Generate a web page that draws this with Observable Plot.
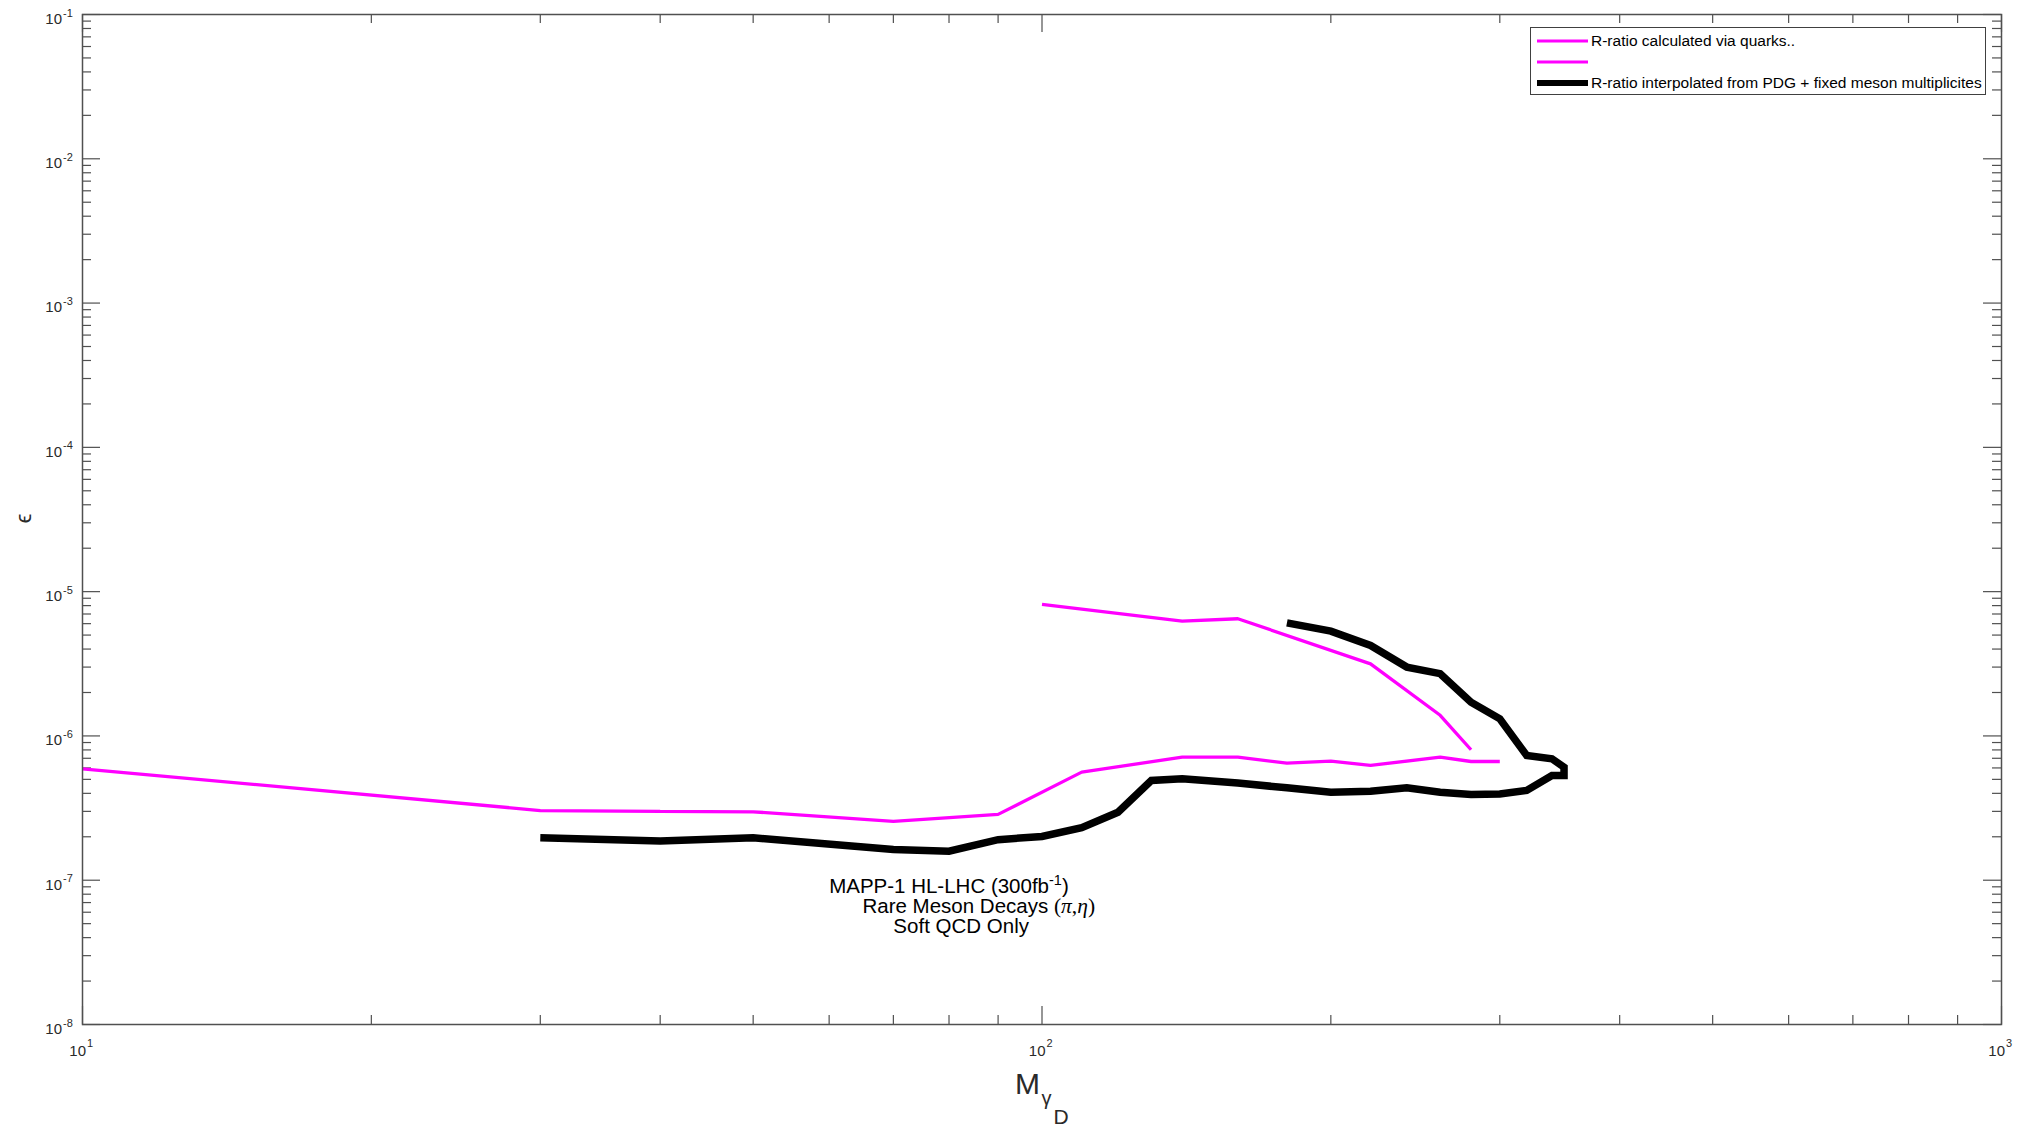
<!DOCTYPE html>
<html><head><meta charset="utf-8">
<script src="https://cdn.jsdelivr.net/npm/d3@7"></script>
<script src="https://cdn.jsdelivr.net/npm/@observablehq/plot@0.6"></script>
<style>
html,body{margin:0;padding:0;background:#fff;}
#chart{position:relative;width:2031px;height:1128px;font-family:"Liberation Sans",Arial,Helvetica,sans-serif;}
#legend{position:absolute;left:1530px;top:27px;width:456px;height:68px;box-sizing:border-box;border:1.5px solid #404040;background:#fff;}
#legend .row{position:absolute;left:6px;height:20px;display:flex;align-items:center;font-size:15.5px;color:#000;white-space:nowrap;}
#legend .row svg{margin-right:3px;}
</style></head><body><div id="chart"></div>
<script>
// ---- data ----
const seriesNames = ["R-ratio calculated via quarks..", "", "R-ratio interpolated from PDG + fixed meson multiplicites"];
const seriesColors = ["#ff00ff", "#ff00ff", "#000000"];
const seriesWidths = [3.3, 3.3, 7.5];

const pinkLowerMass = [10, 30, 40, 50, 70, 90, 110, 140, 160, 180, 200, 220, 260, 280, 300];
const pinkLowerEps  = [5.92e-7, 3.04e-7, 3.0e-7, 2.98e-7, 2.56e-7, 2.86e-7, 5.61e-7, 7.13e-7, 7.13e-7, 6.48e-7, 6.68e-7, 6.24e-7, 7.13e-7, 6.65e-7, 6.65e-7];

const pinkUpperMass = [100, 140, 160, 220, 260, 280];
const pinkUpperEps  = [8.15e-6, 6.24e-6, 6.49e-6, 3.16e-6, 1.39e-6, 8.02e-7];

const blackMass = [30, 40, 50, 70, 80, 90, 100, 110, 120, 130, 140, 160, 180, 200, 220, 240, 260, 280, 300, 320, 340, 350, 350, 340, 320, 300, 280, 260, 240, 220, 200, 180];
const blackEps  = [1.97e-7, 1.87e-7, 1.97e-7, 1.63e-7, 1.59e-7, 1.91e-7, 2.01e-7, 2.31e-7, 2.96e-7, 4.91e-7, 5.05e-7, 4.71e-7, 4.37e-7, 4.07e-7, 4.14e-7, 4.37e-7, 4.07e-7, 3.93e-7, 3.96e-7, 4.19e-7, 5.32e-7, 5.32e-7, 6.07e-7, 6.95e-7, 7.32e-7, 1.315e-6, 1.71e-6, 2.70e-6, 3.0e-6, 4.24e-6, 5.32e-6, 6.08e-6];

const xMajor = [10, 100, 1000];
const xMinor = [20, 30, 40, 50, 60, 70, 80, 90, 200, 300, 400, 500, 600, 700, 800, 900];
const yMajor = [1e-8, 1e-7, 1e-6, 1e-5, 1e-4, 1e-3, 1e-2, 1e-1];
const yMinorMult = [2, 3, 4, 5, 6, 7, 8, 9];

const annotationLines = ["MAPP-1 HL-LHC (300fb-1)", "Rare Meson Decays (π,η)", "Soft QCD Only"];
const annotationMass = [60, 65, 70];
const annotationEps = [8.09e-8, 5.88e-8, 4.28e-8];

const xLabelMain = "M", xLabelSub = "γ", xLabelSubSub = "D";
const yLabel = "ϵ";

// ---- build ----
const W = 2031, H = 1128, mL = 82, mR = 30, mT = 14, mB = 104;
const plotH = H - mT - mB, plotW = W - mL - mR;
const majorLen = 18, minorLen = 9;
const axisColor = "#505050", labelColor = "#2a2a2a";
const font = "'Liberation Sans', Arial, Helvetica, sans-serif";

const yMinor = yMajor.slice(0, -1).flatMap(d => yMinorMult.map(m => m * d));
const rows = (xs, ys) => xs.map((x, i) => ({mass: x, eps: ys[i]}));
const pinkLower = rows(pinkLowerMass, pinkLowerEps);
const pinkUpper = rows(pinkUpperMass, pinkUpperEps);
const black = rows(blackMass, blackEps);
const annotations = annotationLines.map((t, i) => ({text: t, mass: annotationMass[i], eps: annotationEps[i]}));
const exp = d => String(Math.round(Math.log10(d)));

const tickStyle = {stroke: axisColor, strokeWidth: 1.2};
const chart = Plot.plot({
  width: W, height: H,
  marginLeft: mL, marginRight: mR, marginTop: mT, marginBottom: mB,
  style: {fontFamily: font, background: "white", overflow: "visible"},
  x: {type: "log", domain: [10, 1000], axis: null},
  y: {type: "log", domain: [1e-8, 1e-1], axis: null},
  marks: [
    // ticks (inward), bottom/top/left/right
    Plot.tickX(xMajor, {x: d => d, insetTop: plotH - majorLen, ...tickStyle}),
    Plot.tickX(xMajor, {x: d => d, insetBottom: plotH - majorLen, ...tickStyle}),
    Plot.tickX(xMinor, {x: d => d, insetTop: plotH - minorLen, ...tickStyle}),
    Plot.tickX(xMinor, {x: d => d, insetBottom: plotH - minorLen, ...tickStyle}),
    Plot.tickY(yMajor, {y: d => d, insetRight: plotW - majorLen, ...tickStyle}),
    Plot.tickY(yMajor, {y: d => d, insetLeft: plotW - majorLen, ...tickStyle}),
    Plot.tickY(yMinor, {y: d => d, insetRight: plotW - minorLen, ...tickStyle}),
    Plot.tickY(yMinor, {y: d => d, insetLeft: plotW - minorLen, ...tickStyle}),
    // tick labels
    Plot.text(xMajor, {x: d => d, text: () => "10", frameAnchor: "bottom", textAnchor: "end", lineAnchor: "top", dx: 3.5, dy: 20.5, fontSize: 15, fill: labelColor}),
    Plot.text(xMajor, {x: d => d, text: exp, frameAnchor: "bottom", textAnchor: "start", lineAnchor: "middle", dx: 4.5, dy: 18.5, fontSize: 11, fill: labelColor}),
    Plot.text(yMajor, {y: d => d, text: () => "10", frameAnchor: "left", textAnchor: "end", lineAnchor: "middle", dx: -20.5, dy: 4.5, fontSize: 15, fill: labelColor}),
    Plot.text(yMajor, {y: d => d, text: exp, frameAnchor: "left", textAnchor: "start", lineAnchor: "middle", dx: -19.5, dy: -1.5, fontSize: 11, fill: labelColor}),
    // axis labels
    Plot.text([xLabelMain], {text: d => d, frameAnchor: "bottom", textAnchor: "middle", lineAnchor: "bottom", dx: -14.5, dy: 69, fontSize: 30, fill: labelColor}),
    Plot.text([xLabelSub], {text: d => d, frameAnchor: "bottom", textAnchor: "start", lineAnchor: "bottom", dx: -0.5, dy: 80, fontSize: 20, fill: labelColor}),
    Plot.text([xLabelSubSub], {text: d => d, frameAnchor: "bottom", textAnchor: "start", lineAnchor: "bottom", dx: 11.5, dy: 99, fontSize: 21, fill: labelColor}),
    Plot.text([yLabel], {text: d => d, frameAnchor: "left", textAnchor: "middle", lineAnchor: "middle", rotate: -90, dx: -59, dy: -1, fontSize: 22, fill: labelColor}),
    // data lines
    Plot.line(pinkLower, {x: "mass", y: "eps", stroke: seriesColors[0], strokeWidth: seriesWidths[0], strokeLinejoin: "miter", strokeLinecap: "butt"}),
    Plot.line(pinkUpper, {x: "mass", y: "eps", stroke: seriesColors[1], strokeWidth: seriesWidths[1], strokeLinejoin: "miter", strokeLinecap: "butt"}),
    Plot.line(black, {x: "mass", y: "eps", stroke: seriesColors[2], strokeWidth: seriesWidths[2], strokeLinejoin: "miter", strokeMiterlimit: 4, strokeLinecap: "butt"}),
    // annotation
    Plot.text(annotations, {x: "mass", y: "eps", text: "text", textAnchor: "start", lineAnchor: "bottom", fontSize: 20.5, fill: "#000"}),
    Plot.frame({stroke: axisColor, strokeWidth: 1.5})
  ]
});

const container = document.getElementById("chart");
container.appendChild(chart);

// superscript / symbol formatting of annotation text
const allTexts = Array.from(chart.querySelectorAll("text"));
const t0 = allTexts.find(n => n.textContent === annotationLines[0]);
if (t0) {
  const t = d3.select(t0); t.text(null);
  t.append("tspan").text("MAPP-1 HL-LHC (300fb");
  t.append("tspan").attr("dy", -8).attr("font-size", 14.5).text("-1");
  t.append("tspan").attr("dy", 8).text(")");
}
const t1 = allTexts.find(n => n.textContent === annotationLines[1]);
if (t1) {
  const t = d3.select(t1); t.text(null);
  t.append("tspan").text("Rare Meson Decays ");
  const serif = "'Liberation Serif', 'DejaVu Serif', serif";
  t.append("tspan").attr("font-family", serif).attr("font-size", 21.5).text("(");
  t.append("tspan").attr("font-family", serif).attr("font-size", 21.5).attr("font-style", "italic").text("π");
  t.append("tspan").attr("font-family", serif).attr("font-size", 21.5).text(",");
  t.append("tspan").attr("font-family", serif).attr("font-size", 21.5).attr("font-style", "italic").text("η");
  t.append("tspan").attr("font-family", serif).attr("font-size", 21.5).text(")");
}

// legend
const legend = d3.select(container).append("div").attr("id", "legend");
const rowTops = [3, 24, 45];
seriesNames.forEach((name, i) => {
  const row = legend.append("div").attr("class", "row").style("top", rowTops[i] + "px");
  const sw = row.append("svg").attr("width", 51).attr("height", 20);
  sw.append("line").attr("x1", 0).attr("x2", 51).attr("y1", 10).attr("y2", 10)
    .attr("stroke", seriesColors[i]).attr("stroke-width", i === 2 ? 6 : 3);
  row.append("span").text(name);
});
</script></body></html>
